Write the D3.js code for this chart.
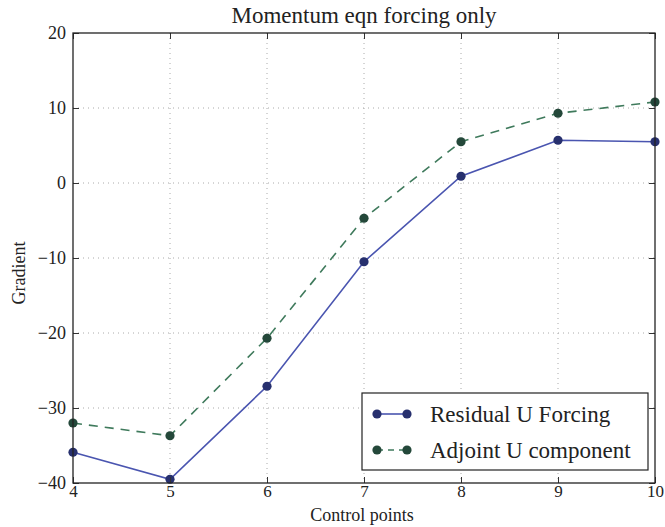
<!DOCTYPE html>
<html>
<head>
<meta charset="utf-8">
<script src="https://cdn.jsdelivr.net/npm/d3@7"></script>
<style>
  html, body { margin: 0; padding: 0; background: #fff; }
  svg { display: block; }
  text { font-family: "Liberation Serif", "DejaVu Serif", serif; fill: #222; }
</style>
</head>
<body>
<svg id="chart" width="665" height="527"></svg>
<script>
// Control points and gradient values for each series
const controlPoints = [4, 5, 6, 7, 8, 9, 10];
const residualForcing = [-35.9, -39.5, -27.1, -10.5, 0.9, 5.7, 5.5];
const adjointComponent = [-32.0, -33.7, -20.7, -4.7, 5.5, 9.3, 10.8];
const xTicks = [4, 5, 6, 7, 8, 9, 10];
const yTicks = [-40, -30, -20, -10, 0, 10, 20];

const seriesNames = ["Residual U Forcing", "Adjoint U component"];
const title = "Momentum eqn forcing only";
const xLabel = "Control points";
const yLabel = "Gradient";

const svg = d3.select("#chart");
const margin = { left: 73, right: 10, top: 33, bottom: 44 };
const W = 665, H = 527;
const x = d3.scaleLinear().domain([4, 10]).range([margin.left, W - margin.right]);
const y = d3.scaleLinear().domain([-40, 20]).range([H - margin.bottom, margin.top]);

const series = [
  { name: seriesNames[0], values: residualForcing, line: "#4a55b0", marker: "#27306e", dash: null },
  { name: seriesNames[1], values: adjointComponent, line: "#3f7a5c", marker: "#24483a", dash: "9,7" }
];

// dotted grid
const grid = svg.append("g");
grid.selectAll(".gx").data(xTicks.slice(1, -1)).join("line")
  .attr("x1", d => x(d)).attr("x2", d => x(d))
  .attr("y1", y(20)).attr("y2", y(-40))
  .attr("stroke", "#aaa").attr("stroke-width", 1).attr("stroke-dasharray", "1,4");
grid.selectAll(".gy").data(yTicks.slice(1, -1)).join("line")
  .attr("x1", x(4)).attr("x2", x(10))
  .attr("y1", d => y(d)).attr("y2", d => y(d))
  .attr("stroke", "#aaa").attr("stroke-width", 1).attr("stroke-dasharray", "1,4");

// series lines and markers
series.forEach(s => {
  const pts = controlPoints.map((c, i) => [c, s.values[i]]);
  svg.append("path")
    .datum(pts)
    .attr("d", d3.line().x(d => x(d[0])).y(d => y(d[1])))
    .attr("fill", "none")
    .attr("stroke", s.line)
    .attr("stroke-width", 1.6)
    .attr("stroke-dasharray", s.dash);
  svg.append("g").selectAll("circle").data(pts).join("circle")
    .attr("cx", d => x(d[0])).attr("cy", d => y(d[1]))
    .attr("r", 4.6).attr("fill", s.marker);
});

// axes with inward ticks on all four sides
const fmt = d => d < 0 ? "\u2212" + Math.abs(d) : String(d);
const axB = svg.append("g").attr("transform", `translate(0,${y(-40)})`)
  .call(d3.axisBottom(x).tickValues(xTicks).tickSizeInner(-6).tickSizeOuter(0).tickFormat(fmt).tickPadding(2));
const axT = svg.append("g").attr("transform", `translate(0,${y(20)})`)
  .call(d3.axisTop(x).tickValues(xTicks).tickSizeInner(-6).tickSizeOuter(0).tickFormat(""));
const axL = svg.append("g").attr("transform", `translate(${x(4)},0)`)
  .call(d3.axisLeft(y).tickValues(yTicks).tickSizeInner(-6).tickSizeOuter(0).tickFormat(fmt).tickPadding(7));
const axR = svg.append("g").attr("transform", `translate(${x(10)},0)`)
  .call(d3.axisRight(y).tickValues(yTicks).tickSizeInner(-6).tickSizeOuter(0).tickFormat(""));
[axB, axT, axL, axR].forEach(a => {
  a.select(".domain").remove();
  a.selectAll(".tick line").attr("stroke", "#333");
  a.selectAll("text").style("font-family", "'Liberation Serif', serif").style("font-size", "18px").attr("fill", "#222");
});
axB.selectAll("text").style("font-size", "17px");

// frame
svg.append("rect")
  .attr("x", x(4)).attr("y", y(20))
  .attr("width", x(10) - x(4)).attr("height", y(-40) - y(20))
  .attr("fill", "none").attr("stroke", "#222").attr("stroke-width", 1.3);

// title and axis labels
svg.append("text").attr("x", (x(4) + x(10)) / 2).attr("y", 23)
  .attr("text-anchor", "middle").style("font-size", "23px").text(title);
svg.append("text").attr("x", (x(4) + x(10)) / 2 - 2).attr("y", 521)
  .attr("text-anchor", "middle").style("font-size", "18px").text(xLabel);
svg.append("text").attr("transform", `translate(25,${y(-12)}) rotate(-90)`)
  .attr("text-anchor", "middle").style("font-size", "18px").text(yLabel);

// legend
const lg = svg.append("g").attr("transform", "translate(362,393)");
lg.append("rect").attr("width", 286).attr("height", 77)
  .attr("fill", "#fff").attr("stroke", "#222").attr("stroke-width", 1.2);
series.forEach((s, i) => {
  const cy = 21 + i * 36;
  lg.append("line").attr("x1", 15).attr("x2", 45).attr("y1", cy).attr("y2", cy)
    .attr("stroke", s.line).attr("stroke-width", 1.6).attr("stroke-dasharray", s.dash ? "6,5" : null);
  lg.selectAll(null).data([15, 45]).join("circle")
    .attr("cx", d => d).attr("cy", cy).attr("r", 4.6).attr("fill", s.marker);
  lg.append("text").attr("x", 68).attr("y", cy + 8).style("font-size", "23px").text(s.name);
});
</script>
</body>
</html>
